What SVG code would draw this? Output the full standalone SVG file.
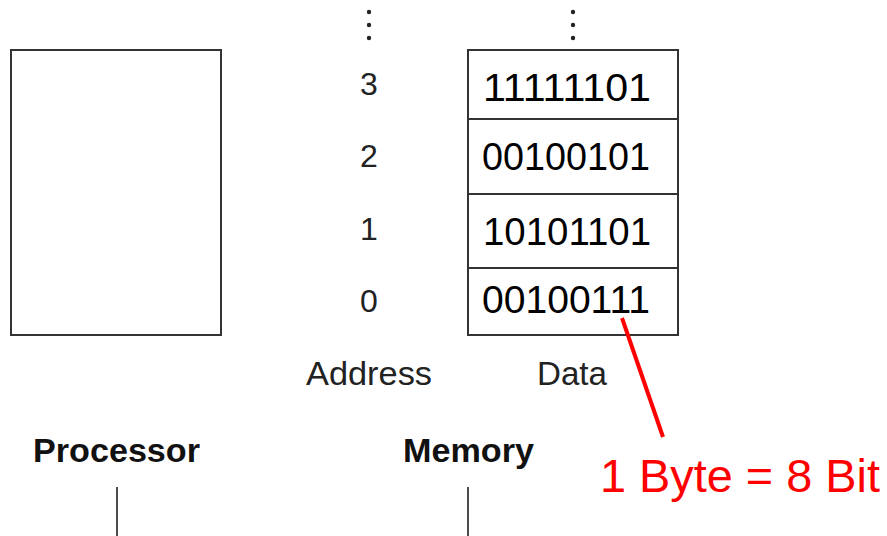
<svg xmlns="http://www.w3.org/2000/svg" width="887" height="536" viewBox="0 0 887 536">
<style>
.box{fill:#fff;stroke:#333;stroke-width:2}
.div{stroke:#333;stroke-width:2}
.addr{font-family:"Liberation Sans",Arial,sans-serif;font-size:32px;fill:#222;text-anchor:middle}
.data{font-family:"Liberation Sans",Arial,sans-serif;font-size:38px;fill:#000}
.lbl{font-family:"Liberation Sans",Arial,sans-serif;font-size:33px;fill:#222}
.title{font-family:"Liberation Sans",Arial,sans-serif;font-size:33px;font-weight:bold;fill:#111}
.red{font-family:"Liberation Sans",Arial,sans-serif;font-size:46px;fill:#f00}
.dot{fill:#222}
.wire{stroke:#111;stroke-width:1.5}
</style>
<rect width="887" height="536" fill="#fff"/>
<g id="processor">
<rect class="box" x="11" y="50" width="210" height="285"/>
<text class="title" x="33" y="462" textLength="167" lengthAdjust="spacingAndGlyphs">Processor</text>
</g>
<g id="memory">
<rect class="box" x="468" y="50" width="210" height="285"/>
<line class="div" x1="468" y1="119" x2="678" y2="119"/>
<line class="div" x1="468" y1="194" x2="678" y2="194"/>
<line class="div" x1="468" y1="268" x2="678" y2="268"/>
<text class="data" x="483" y="101" textLength="168" lengthAdjust="spacingAndGlyphs">11111101</text>
<text class="data" x="482" y="170" textLength="168" lengthAdjust="spacingAndGlyphs">00100101</text>
<text class="data" x="483" y="245" textLength="168" lengthAdjust="spacingAndGlyphs">10101101</text>
<text class="data" x="482" y="313" textLength="168" lengthAdjust="spacingAndGlyphs">00100111</text>
<text class="title" x="403" y="462" textLength="131" lengthAdjust="spacingAndGlyphs">Memory</text>
</g>
<g id="address">
<circle class="dot" cx="369" cy="12" r="2.2"/>
<circle class="dot" cx="369" cy="25" r="2.2"/>
<circle class="dot" cx="369" cy="38" r="2.2"/>
<circle class="dot" cx="573" cy="12" r="2.2"/>
<circle class="dot" cx="573" cy="25" r="2.2"/>
<circle class="dot" cx="573" cy="38" r="2.2"/>
<text class="addr" x="369" y="95">3</text>
<text class="addr" x="369" y="167">2</text>
<text class="addr" x="369" y="240">1</text>
<text class="addr" x="369" y="312">0</text>
<text class="lbl" x="306" y="385" textLength="126" lengthAdjust="spacingAndGlyphs">Address</text>
<text class="lbl" x="537" y="385" textLength="70" lengthAdjust="spacingAndGlyphs">Data</text>
</g>
<g id="annotation">
<text class="red" x="600" y="492" textLength="280" lengthAdjust="spacingAndGlyphs">1 Byte = 8 Bit</text>
</g>
<g id="connectors">
<line x1="622" y1="318" x2="663" y2="437" stroke="#f00" stroke-width="4"/>
<line class="wire" x1="117" y1="487" x2="117" y2="536"/>
<line class="wire" x1="468" y1="487" x2="468" y2="536"/>
</g>
</svg>
